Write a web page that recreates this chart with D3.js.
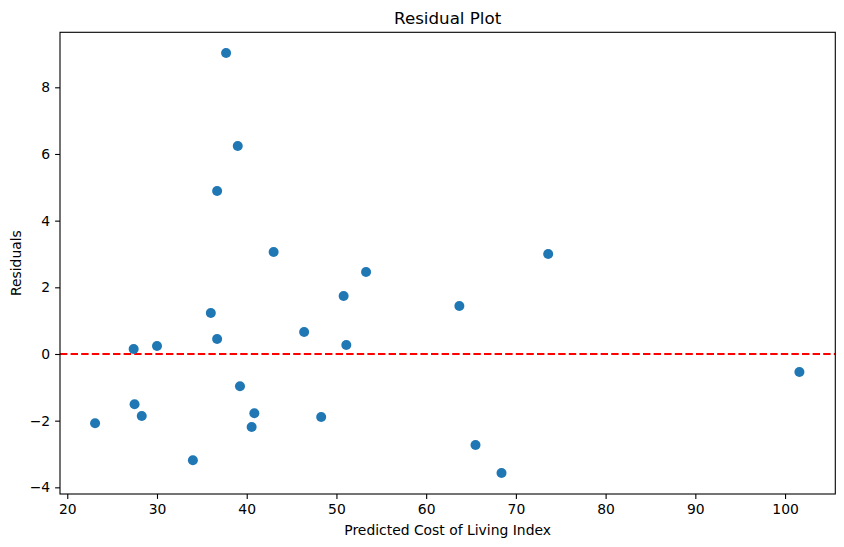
<!DOCTYPE html>
<html>
<head>
<meta charset="utf-8">
<script src="https://cdn.jsdelivr.net/npm/d3@7"></script>
<style>
  html, body { margin: 0; padding: 0; background: #fff; }
  text { font-family: "DejaVu Sans", sans-serif; }
</style>
</head>
<body>
<svg id="chart" width="844" height="547"></svg>
<script>
// predicted values (x) and residuals (y)
var predicted = [23.1, 27.5, 28.3, 34.0, 39.25, 40.55, 40.85, 37.7, 27.4, 30.0,
                 36.0, 36.7, 36.7, 39.0, 43.0, 46.4, 48.3, 50.8, 51.1, 53.3,
                 63.7, 65.5, 68.4, 73.6, 101.6];
var residuals = [-2.08, -1.51, -1.86, -3.19, -0.97, -2.19, -1.78, 9.03, 0.15, 0.24,
                 1.23, 4.89, 0.45, 6.24, 3.06, 0.66, -1.89, 1.74, 0.27, 2.46,
                 1.44, -2.73, -3.57, 3.0, -0.54];
var xTicks = [20, 30, 40, 50, 60, 70, 80, 90, 100];
var yTicks = [-4, -2, 0, 2, 4, 6, 8];

var pLeft = 60, pRight = 835.3, pTop = 32.3, pBottom = 494;
var svg = d3.select("#chart");

var x = d3.scaleLinear().domain([19.19, 105.6]).range([pLeft, pRight]);
var y = d3.scaleLinear().domain([-4.2, 9.65]).range([pBottom, pTop]);

// x axis
var xa = svg.append("g").attr("transform", "translate(0," + pBottom + ")")
    .call(d3.axisBottom(x).tickValues(xTicks).tickSize(4.9).tickPadding(4.9));
// y axis
var ya = svg.append("g").attr("transform", "translate(" + pLeft + ",0)")
    .call(d3.axisLeft(y).tickValues(yTicks).tickSize(4.9).tickPadding(4.9)
        .tickFormat(function (d) { return d < 0 ? "\u2212" + Math.abs(d) : d; }));
[xa, ya].forEach(function (a) {
    a.select(".domain").remove();
    a.selectAll("text").attr("font-size", 13.9).attr("fill", "#000");
    a.selectAll("line").attr("stroke", "#000").attr("stroke-width", 1.1);
});

// zero line
svg.append("line")
    .attr("x1", pLeft).attr("x2", pRight)
    .attr("y1", y(0)).attr("y2", y(0))
    .attr("stroke", "red").attr("stroke-width", 2)
    .attr("stroke-dasharray", "7.4,3.2");

// points
svg.append("g").selectAll("circle")
    .data(predicted)
    .enter().append("circle")
    .attr("cx", function (d) { return x(d); })
    .attr("cy", function (d, i) { return y(residuals[i]); })
    .attr("r", 5)
    .attr("fill", "#1f77b4");

// frame
svg.append("rect")
    .attr("x", pLeft).attr("y", pTop)
    .attr("width", pRight - pLeft).attr("height", pBottom - pTop)
    .attr("fill", "none").attr("stroke", "#000").attr("stroke-width", 1.1);

svg.append("text").attr("x", (pLeft + pRight) / 2).attr("y", pTop - 8)
    .attr("text-anchor", "middle").attr("font-size", 16.7).text("Residual Plot");
svg.append("text").attr("x", (pLeft + pRight) / 2).attr("y", 535)
    .attr("text-anchor", "middle").attr("font-size", 13.9).text("Predicted Cost of Living Index");
svg.append("text")
    .attr("transform", "translate(21," + ((pTop + pBottom) / 2) + ") rotate(-90)")
    .attr("text-anchor", "middle").attr("font-size", 13.9).text("Residuals");
</script>
</body>
</html>
